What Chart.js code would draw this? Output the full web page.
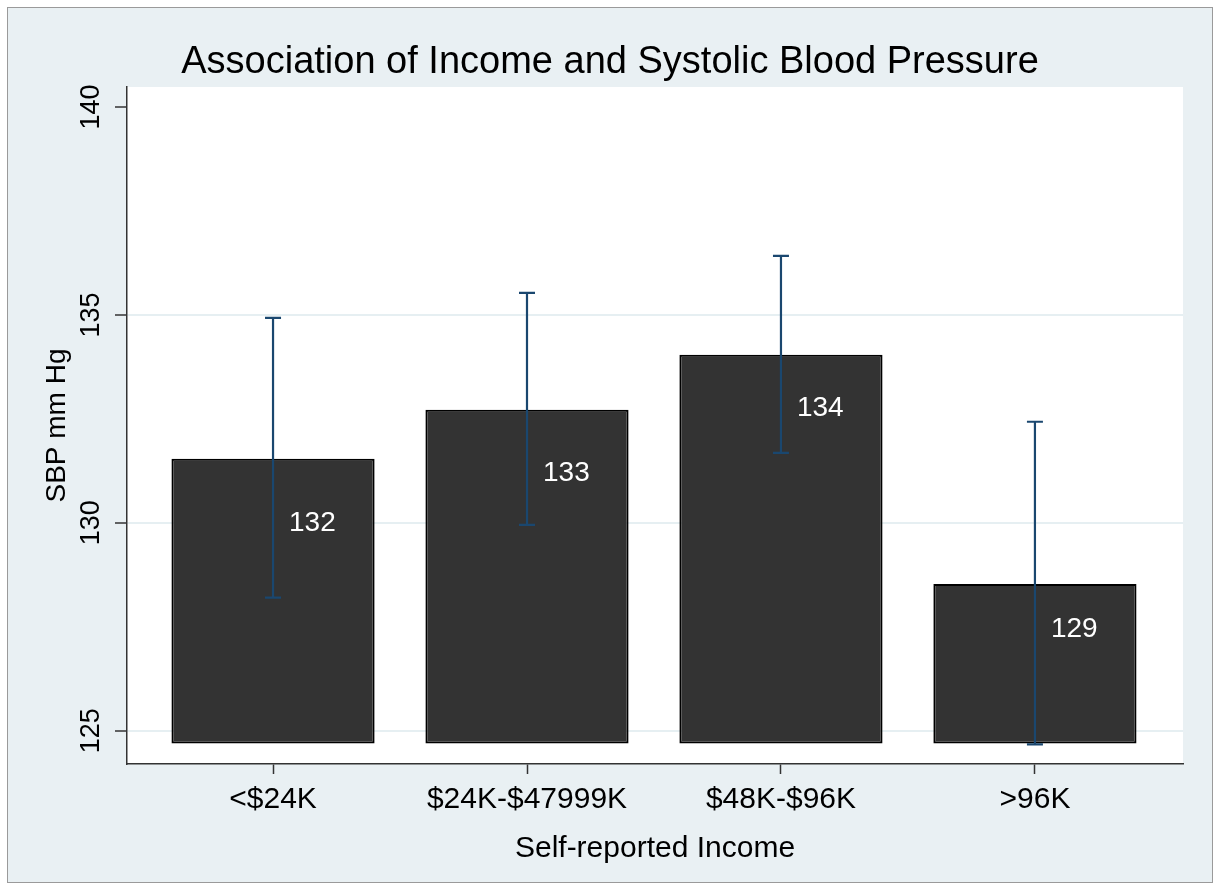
<!DOCTYPE html>
<html>
<head>
<meta charset="utf-8">
<script src="https://cdn.jsdelivr.net/npm/chart.js@4.4.1/dist/chart.umd.min.js"></script>
<style>
  html, body { margin: 0; padding: 0; background: #ffffff; }
  #frame {
    position: absolute; left: 7px; top: 7px;
    width: 1204px; height: 874px;
    border: 1px solid #9a9a9a;
    background: #e9f0f3;
  }
  canvas { display: block; }
</style>
</head>
<body>
<div id="frame"><canvas id="myChart" width="1204" height="874"></canvas></div>
<script>
// values
const categories = ['<$24K', '$24K-$47999K', '$48K-$96K', '>96K'];
const meanSBP = [131.54, 132.72, 134.04, 128.53];
const ciLow = [128.20, 129.95, 131.68, 124.67];
const ciHigh = [134.93, 135.53, 136.42, 132.43];
const barLabels = ['132', '133', '134', '129'];
const labelAt = [130.0, 131.18, 132.76, 127.43];
const yTicks = [125, 130, 135, 140];
const barBase = 124.69;

const FONT = '"Liberation Sans", Arial, Helvetica, sans-serif';
const axisColor = '#333333';
const ciColor = '#1a476f';

const plotBg = {
  id: 'plotBg',
  beforeDraw(chart) {
    const { ctx, chartArea: a } = chart;
    ctx.save();
    ctx.fillStyle = '#ffffff';
    ctx.fillRect(a.left, a.top, a.right - a.left, a.bottom - a.top);
    ctx.restore();
  }
};

// rotated y tick labels (Stata style)
const yLabels = {
  id: 'yLabels',
  afterDraw(chart) {
    const { ctx } = chart;
    const y = chart.scales.y;
    ctx.save();
    ctx.fillStyle = '#000';
    ctx.font = '27px ' + FONT;
    ctx.textAlign = 'center';
    ctx.textBaseline = 'middle';
    yTicks.forEach(v => {
      ctx.save();
      ctx.translate(84, y.getPixelForValue(v));
      ctx.rotate(-Math.PI / 2);
      ctx.fillText(String(v), 0, 0);
      ctx.restore();
    });
    ctx.restore();
  }
};

const ciBars = {
  id: 'ciBars',
  afterDatasetsDraw(chart) {
    const { ctx } = chart;
    const x = chart.scales.x, y = chart.scales.y;
    ctx.save();
    ctx.strokeStyle = ciColor;
    ctx.lineWidth = 2.2;
    meanSBP.forEach((m, i) => {
      const px = x.getPixelForValue(i);
      const lo = y.getPixelForValue(ciLow[i]);
      const hi = y.getPixelForValue(ciHigh[i]);
      ctx.beginPath();
      ctx.moveTo(px, lo); ctx.lineTo(px, hi);
      ctx.moveTo(px - 8, lo); ctx.lineTo(px + 8, lo);
      ctx.moveTo(px - 8, hi); ctx.lineTo(px + 8, hi);
      ctx.stroke();
    });
    ctx.fillStyle = '#ffffff';
    ctx.font = '28px ' + FONT;
    ctx.textAlign = 'left';
    ctx.textBaseline = 'middle';
    barLabels.forEach((t, i) => {
      ctx.fillText(t, x.getPixelForValue(i) + 16, y.getPixelForValue(labelAt[i]));
    });
    ctx.restore();
  }
};

const ctx = document.getElementById('myChart').getContext('2d');
const chart = new Chart(ctx, {
  type: 'bar',
  data: {
    datasets: [
      {
        label: 'SBP',
        data: meanSBP.map((v, i) => ({ x: i, y: v })),
        base: barBase,
        backgroundColor: '#333333',
        borderColor: '#000000',
        borderWidth: 2,
        borderSkipped: false,
        barPercentage: 1,
        categoryPercentage: 0.8
      }
    ]
  },
  options: {
    responsive: false,
    animation: false,
    devicePixelRatio: 1,
    layout: { padding: { left: 29, right: 29, top: 0, bottom: 0 } },
    plugins: {
      legend: { display: false },
      tooltip: { enabled: false },
      title: {
        display: true,
        text: 'Association of Income and Systolic Blood Pressure',
        color: '#000',
        font: { family: FONT, size: 38, weight: 'normal' },
        padding: { top: 32, bottom: 1.4 }
      }
    },
    scales: {
      x: {
        type: 'linear',
        offset: false,
        min: -0.575,
        max: 3.583,
        afterBuildTicks: s => { s.ticks = categories.map((c, i) => ({ value: i })); },
        afterFit: s => { s.height = 118; },
        ticks: {
          callback: v => categories[v],
          color: '#000',
          font: { family: FONT, size: 30 },
          padding: 8,
          maxRotation: 0,
          autoSkip: false
        },
        grid: { offset: false, drawOnChartArea: false, drawTicks: true, tickLength: 10, tickColor: axisColor, tickWidth: 1.5 },
        border: { color: axisColor, width: 1.5 },
        title: {
          display: true,
          text: 'Self-reported Income',
          color: '#000',
          font: { family: FONT, size: 30 },
          padding: { top: 0, bottom: 15 }
        }
      },
      y: {
        min: 124.2,
        max: 140.48,
        afterBuildTicks: s => { s.ticks = yTicks.map(v => ({ value: v })); },
        afterFit: s => { s.width = 90; },
        ticks: { display: false },
        grid: {
          color: c => (c.tick && c.tick.value === 140 ? 'rgba(0,0,0,0)' : '#e6eff2'),
          lineWidth: 2, drawTicks: true, tickLength: 12, tickColor: axisColor, tickWidth: 1.5
        },
        border: { color: axisColor, width: 1.5 },
        title: {
          display: true,
          text: 'SBP mm Hg',
          color: '#000',
          font: { family: FONT, size: 28 },
          padding: { top: 3, bottom: 0 }
        }
      }
    }
  },
  plugins: [plotBg, ciBars, yLabels]
});
</script>
</body>
</html>
